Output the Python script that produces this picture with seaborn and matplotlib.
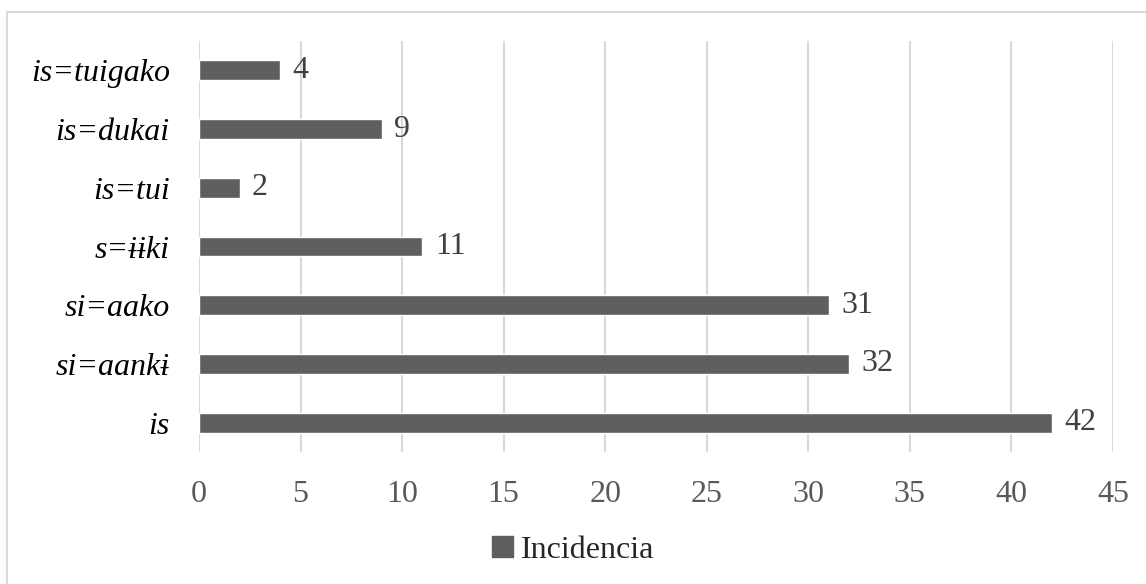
import matplotlib
matplotlib.use("Agg")
import matplotlib.pyplot as plt
import matplotlib.patches as mpatches
import seaborn as sns
import pandas as pd

categories = ["is=tuigako", "is=dukai", "is=tui", "s=ɨɨki", "si=aako", "si=aankɨ", "is"]
values = [4, 9, 2, 11, 31, 32, 42]
x_ticks = [0, 5, 10, 15, 20, 25, 30, 35, 40, 45]
series_name = "Incidencia"

df = pd.DataFrame({"forma": categories, "incidencia": values})

sns.set_theme(style="white")
plt.rcParams["font.family"] = ["Liberation Serif", "DejaVu Serif"]

bar_color = "#5f5f5f"
grid_color = "#d9d9d9"
fs = 23

fig = plt.figure(figsize=(11.46, 5.84), dpi=100)
ax = fig.add_axes([199 / 1146, 1 - 452 / 584, (1113 - 199) / 1146, (452 - 41) / 584])

sns.barplot(data=df, x="incidencia", y="forma", order=categories, color=bar_color,
            width=0.34, saturation=1, label=series_name, ax=ax, zorder=3)

ax.set_xlim(0, 45)
ax.set_xticks(x_ticks)
ax.set_xticklabels([str(t) for t in x_ticks])
ax.xaxis.grid(True, color=grid_color, linewidth=1.5, zorder=0)
ax.yaxis.grid(False)
for s in ax.spines.values():
    s.set_visible(False)
ax.set_xlabel("")
ax.set_ylabel("")
ax.tick_params(axis="x", length=0, pad=20, labelsize=fs, labelcolor="#595959")
ax.tick_params(axis="y", length=0, pad=21, labelsize=fs, labelcolor="black")
for lab in ax.get_yticklabels():
    lab.set_fontstyle("italic")

for cont in ax.containers:
    ax.bar_label(cont, labels=[str(v) for v in values], padding=9,
                 fontsize=fs, color="#404040")

handle = mpatches.Patch(color=bar_color, label=series_name)
fig.legend(handles=[handle], loc="center", bbox_to_anchor=(0.5, 1 - 550 / 584),
           frameon=False, fontsize=fs, handlelength=0.65, handleheight=0.65,
           handletextpad=0.25)
if ax.get_legend() is not None:
    ax.get_legend().remove()

# light outer frame of the chart area
fig.patches.append(mpatches.Rectangle((7 / 1146, -0.05), 1.2, 1 - 12 / 584 + 0.05,
                                      transform=fig.transFigure, fill=False,
                                      edgecolor="#d9d9d9", linewidth=1.5))

fig.savefig("out.png", dpi=100)
